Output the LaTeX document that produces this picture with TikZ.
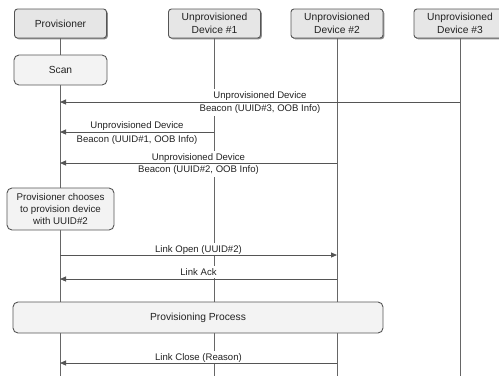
\documentclass[tikz,border=0pt]{standalone}
\usepackage{fontspec}
\setmainfont{Liberation Sans}
\usetikzlibrary{arrows.meta,shadows}
\definecolor{lineclr}{HTML}{555555}
\definecolor{headfill}{HTML}{E6E6E6}
\definecolor{actfill}{HTML}{F3F3F3}
\definecolor{txtclr}{HTML}{222222}
\begin{document}
\begin{tikzpicture}[x=1bp,y=-1bp,
  every node/.style={text=txtclr},
  head/.style={draw=lineclr, line width=0.9bp, fill=headfill, rounded corners=3bp,
    minimum width=92bp, minimum height=29bp, align=center, inner sep=1bp,
    font=\fontsize{10.3}{12.5}\selectfont,
    drop shadow={shadow xshift=1.3bp, shadow yshift=-1.3bp, fill=black!45, opacity=1}},
  act/.style={draw=lineclr, line width=0.9bp, fill=actfill, rounded corners=5bp,
    align=center, inner sep=1bp, font=\fontsize{10.3}{12.5}\selectfont},
  life/.style={draw=lineclr!90, line width=1bp},
  msg/.style={draw=lineclr, line width=0.9bp, -{Triangle[length=6bp,width=5bp]}},
  lbl/.style={fill=white, inner xsep=3bp, inner ysep=2.5bp, anchor=base,
    font=\fontsize{9.6}{11}\selectfont},
]
\useasboundingbox (0,0) rectangle (499,376);

% lifeline heads
\node[head] (p)  at (60.5,23.5) {Provisioner};
\node[head] (d1) at (214.5,23.5) {Unprovisioned\\Device \#1};
\node[head] (d2) at (337,23.5) {Unprovisioned\\Device \#2};
\node[head] (d3) at (460,23.5) {Unprovisioned\\Device \#3};

% lifeline ends at the bottom edge
\coordinate (pE)  at (60,376);
\coordinate (d1E) at (214,376);
\coordinate (d2E) at (337,376);
\coordinate (d3E) at (460,376);

\draw[life] (60,38) -- (pE);
\draw[life] (214,38) -- (d1E);
\draw[life] (337,38) -- (d2E);
\draw[life] (460,38) -- (d3E);

% message end points on the lifelines
\coordinate (m1a) at (460,102);  \coordinate (m1b) at (60,102);
\coordinate (m2a) at (214,132);  \coordinate (m2b) at (60,132);
\coordinate (m3a) at (337,163);  \coordinate (m3b) at (60,163);
\coordinate (m4a) at (60,255);   \coordinate (m4b) at (337,255);
\coordinate (m5a) at (337,279);  \coordinate (m5b) at (60,279);
\coordinate (m6a) at (337,363);  \coordinate (m6b) at (60,363);

% message labels (white backing hides the lifelines behind them)
\node[lbl] (l1a) at (260,98.5)  {Unprovisioned Device};
\node[lbl] (l1b) at (260,111.5) {Beacon (UUID\#3, OOB Info)};
\node[lbl] (l2a) at (137,128.5) {Unprovisioned Device};
\node[lbl] (l2b) at (137,142.5) {Beacon (UUID\#1, OOB Info)};
\node[lbl] (l3a) at (198.5,160) {Unprovisioned Device};
\node[lbl] (l3b) at (198.5,172.5) {Beacon (UUID\#2, OOB Info)};
\node[lbl] (l4)  at (198.5,252) {Link Open (UUID\#2)};
\node[lbl] (l5)  at (198.5,275.5) {Link Ack};
\node[lbl] (l6)  at (198.5,360) {Link Close (Reason)};

% messages
\draw[msg] (m1a) -- (m1b);
\draw[msg] (m2a) -- (m2b);
\draw[msg] (m3a) -- (m3b);
\draw[msg] (m4a) -- (m4b);
\draw[msg] (m5a) -- (m5b);
\draw[msg] (m6a) -- (m6b);

% activity boxes
\node[act, minimum width=93bp, minimum height=30bp] (scan) at (60.5,70) {Scan};
\node[act, minimum width=107bp, minimum height=42bp,
  font=\fontsize{9.8}{12.3}\selectfont] (choose) at (60.5,209)
  {Provisioner chooses\\to provision device\\with UUID\#2};
\node[act, minimum width=370bp, minimum height=31bp] (proc) at (198,317.5)
  {Provisioning Process};
\end{tikzpicture}
\end{document}
